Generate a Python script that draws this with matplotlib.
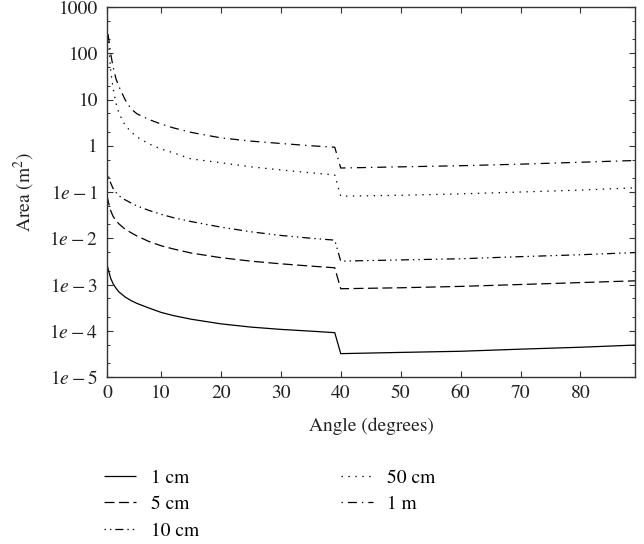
import matplotlib
matplotlib.use("Agg")
import matplotlib.pyplot as plt
from matplotlib.ticker import LogLocator, NullFormatter

angles = [1.0, 1.3, 1.6, 2, 2.5, 3, 4, 5, 6, 8, 10, 12, 15, 20, 25, 30, 35, 39,
          40, 50, 60, 70, 80, 89.1]

# area (m^2) for each aperture size
area_1cm = [2.69e-3, 1.91e-3, 1.38e-3, 1.05e-3, 8.3e-4, 6.9e-4, 5.4e-4, 4.5e-4,
            3.9e-4, 3.1e-4, 2.5e-4, 2.14e-4, 1.78e-4, 1.41e-4, 1.20e-4, 1.07e-4,
            9.8e-5, 9.1e-5, 3.2e-5, 3.4e-5, 3.6e-5, 4.0e-5, 4.4e-5, 4.9e-5]
area_5cm = [8.3e-2, 5.6e-2, 4.0e-2, 3.0e-2, 2.4e-2, 2.04e-2, 1.58e-2, 1.32e-2,
            1.12e-2, 8.5e-3, 6.9e-3, 5.9e-3, 4.8e-3, 3.8e-3, 3.2e-3, 2.8e-3,
            2.5e-3, 2.3e-3, 8.1e-4, 8.5e-4, 9.1e-4, 1.0e-3, 1.1e-3, 1.2e-3]
area_10cm = [0.28, 0.21, 0.158, 0.12, 0.098, 0.083, 0.068, 0.058, 0.050, 0.040,
             0.033, 0.028, 0.023, 0.0174, 0.0138, 0.0115, 0.0100, 0.0091,
             0.0032, 0.0034, 0.0036, 0.0040, 0.0044, 0.0049]
area_50cm = [251, 141, 45, 17.8, 8.3, 5.0, 2.8, 2.0, 1.55, 1.10, 0.85, 0.71,
             0.52, 0.43, 0.35, 0.30, 0.26, 0.234, 0.081, 0.085, 0.091, 0.100,
             0.110, 0.123]
area_1m = [355, 200, 100, 52, 28, 19, 10, 6.3, 4.9, 3.7, 2.95, 2.45, 1.95, 1.48,
           1.26, 1.12, 1.0, 0.93, 0.33, 0.35, 0.37, 0.40, 0.44, 0.48]

labels = ["1 cm", "5 cm", "10 cm", "50 cm", "1 m"]
xtick_vals = [1.0, 10, 20, 30, 40, 50, 60, 70, 80]
xtick_labels = ["0", "10", "20", "30", "40", "50", "60", "70", "80"]
ytick_vals = [1e3, 1e2, 1e1, 1, 1e-1, 1e-2, 1e-3, 1e-4, 1e-5]
ytick_labels = ["1000", "100", "10", "1", r"$1e-1$", r"$1e-2$",
                r"$1e-3$", r"$1e-4$", r"$1e-5$"]

plt.rcParams["font.family"] = ["STIXGeneral", "DejaVu Serif"]
plt.rcParams["mathtext.fontset"] = "stix"
plt.rcParams["lines.scale_dashes"] = False

styles = [
	(0, ()),
	(0, (7.2, 3.2)),
	(8.7, (5.8, 2.9, 1.0, 2.9, 1.0, 2.9)),
	(0, (1.0, 4.0)),
	(10.1, (6.5, 3.6, 1.0, 3.6)),
]
series = [area_1cm, area_5cm, area_10cm, area_50cm, area_1m]
fs = 14

fig = plt.figure(figsize=(6.44, 5.44), dpi=100)
ax = fig.add_axes([107 / 644, 1 - 377 / 544, 528 / 644, 370 / 544])

for vals, ls, lab in zip(series, styles, labels):
	ax.plot(angles, vals, color="black", lw=0.9, linestyle=ls, label=lab)

ax.set_yscale("log")
ax.set_xlim(1.0, 89.1)
ax.set_ylim(1e-5, 1e3)
ax.set_xticks(xtick_vals)
ax.set_xticklabels(xtick_labels)
ax.set_yticks(ytick_vals)
ax.set_yticklabels(ytick_labels)
ax.yaxis.set_minor_locator(LogLocator(base=10, subs=(2.0, 5.0), numticks=20))
ax.yaxis.set_minor_formatter(NullFormatter())

ax.tick_params(which="both", direction="in", top=True, right=True,
               colors="#333333", labelcolor="#222222", labelsize=fs)
ax.tick_params(which="major", length=4.5, width=0.8)
ax.tick_params(which="minor", length=2.5, width=0.7)
ax.tick_params(axis="y", pad=6.5)
ax.tick_params(axis="x", pad=6)
for sp in ax.spines.values():
	sp.set_color("#333333")
	sp.set_linewidth(1.0)

ax.set_xlabel("Angle (degrees)", fontsize=fs, color="#222222", labelpad=11)
ax.set_ylabel("Area (m$^2$)", fontsize=fs, color="#222222", labelpad=9)

fig.legend(loc="upper left", bbox_to_anchor=(104 / 644, 1 - 469 / 544),
           ncol=2, frameon=False, fontsize=fs, handlelength=1.65,
           handletextpad=0.75, columnspacing=7.3, labelspacing=0.46,
           borderpad=0, borderaxespad=0)

plt.savefig("out.png", dpi=100)
